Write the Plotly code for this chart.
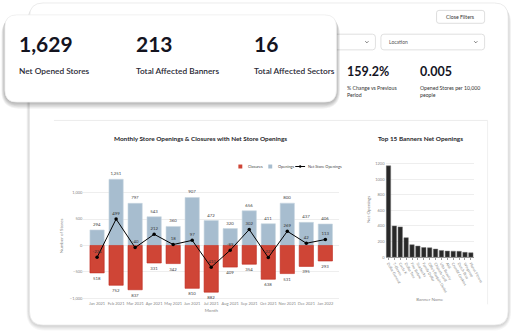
import plotly.graph_objects as go

W, H = 526, 336
FONT = "Lato"

# ---------------- data ----------------
months = ["Jan 2021", "Feb 2021", "Mar 2021", "Apr 2021", "May 2021", "Jun 2021",
          "Jul 2021", "Aug 2021", "Sep 2021", "Oct 2021", "Nov 2021", "Dec 2021", "Jan 2022"]
openings = [294, 1251, 797, 543, 360, 907, 472, 320, 656, 411, 800, 437, 406]
closures = [518, 752, 837, 331, 342, 810, 882, 409, 354, 638, 531, 395, 293]
net_openings = [-224, 499, -40, 212, 18, 97, -410, -89, 302, -227, 269, 42, 113]

banners = ["Dollar General", "7-Eleven", "Circle K", "Dollar Tree", "Five Below",
           "Starbucks", "Family Dollar", "Ollie's Bargain Outlet", "Chipotle Grill",
           "Ulta Beauty", "Aldi", "Crumbl Cookies", "Dutch Bros", "Wingstop", "Planet Fitness"]
banner_net = [1170, 400, 388, 250, 160, 142, 124, 120, 104, 86, 78, 77, 75, 62, 57]

kpi_values = ["1,629", "213", "16"]
kpi_labels = ["Net Opened Stores", "Total Affected Banners", "Total Affected Sectors"]
small_values = ["159.2%", "0.005"]
small_labels = ["% Change vs Previous<br>Period", "Opened Stores per 10,000<br>people"]


def X(x):
    return x / W


def Y(y):
    return 1 - y / H


def rrect(x0, y0, x1, y1, r):
    p = lambda x, y: f"{X(x):.5f},{Y(y):.5f}"
    return (f"M {p(x0+r, y0)} L {p(x1-r, y0)} Q {p(x1, y0)} {p(x1, y0+r)} "
            f"L {p(x1, y1-r)} Q {p(x1, y1)} {p(x1-r, y1)} L {p(x0+r, y1)} "
            f"Q {p(x0, y1)} {p(x0, y1-r)} L {p(x0, y0+r)} Q {p(x0, y0)} {p(x0+r, y0)} Z")


shapes = []


def add_card(x0, y0, x1, y1, r, shadow_alpha, shadow_layers, border="#e4e4e4"):
    for i in range(shadow_layers, 0, -1):
        shapes.append(dict(type="path", xref="paper", yref="paper",
                           path=rrect(x0 - i * 0.6, y0 + i * 0.4, x1 + i * 0.6, y1 + i * 1.1, r + i),
                           fillcolor=f"rgba(0,0,0,{shadow_alpha})", line=dict(width=0), layer="below"))
    shapes.append(dict(type="path", xref="paper", yref="paper", path=rrect(x0, y0, x1, y1, r),
                       fillcolor="white", line=dict(color=border, width=0.8), layer="below"))


# outer dashboard card
add_card(30, 2, 518, 327, 14, 0.035, 5, border="#e6e6e6")

# separator lines inside
shapes.append(dict(type="line", xref="paper", yref="paper", x0=X(55), x1=X(497), y0=Y(120.5), y1=Y(120.5),
                   line=dict(color="#e6e6e6", width=0.8), layer="below"))
shapes.append(dict(type="line", xref="paper", yref="paper", x0=X(497), x1=X(497), y0=Y(120.5), y1=Y(306),
                   line=dict(color="#ececec", width=0.8), layer="below"))

# close filters button
shapes.append(dict(type="path", xref="paper", yref="paper", path=rrect(445, 9.5, 494, 22.5, 2.5),
                   fillcolor="white", line=dict(color="#d5d5d5", width=0.8), layer="below"))
# dropdowns
for (x0, x1, cx) in [(300, 382.7, 374), (388.3, 494, 485)]:
    shapes.append(dict(type="path", xref="paper", yref="paper", path=rrect(x0, 33.5, x1, 49.3, 3),
                       fillcolor="white", line=dict(color="#d8d8d8", width=0.8), layer="below"))
    shapes.append(dict(type="path", xref="paper", yref="paper",
                       path=f"M {X(cx-1.6)},{Y(40.6)} L {X(cx)},{Y(42.2)} L {X(cx+1.6)},{Y(40.6)}",
                       line=dict(color="#555", width=0.8), layer="below"))

# KPI card on top
add_card(5, 14, 343, 102, 12, 0.05, 6, border="#ececec")

annotations = []


def txt(x, y, text, size, color="#333", xanchor="left", yanchor="middle", weight="normal"):
    annotations.append(dict(x=X(x), y=Y(y), xref="paper", yref="paper", text=text, showarrow=False,
                            xanchor=xanchor, yanchor=yanchor, align="left",
                            font=dict(family=FONT, size=size, color=color, weight=weight)))


for xk, v, l in zip([17, 137, 257], kpi_values, kpi_labels):
    txt(xk, 43, v, 21, "#14141f", weight="bold")
    txt(xk, 71, l, 8.3, "#2a2a36", weight=600)

for xk, v, l in zip([351.5, 426], small_values, small_labels):
    txt(xk, 71, v, 12.5, "#14141f", weight="bold")
    txt(xk, 91.5, l, 5.2, "#333")

txt(469.5, 16, "Close Filters", 5.2, "#333", xanchor="center")
txt(394, 41.3, "Location", 5.0, "#555")

# chart titles
txt(204.5, 139, "Monthly Store Openings & Closures with Net Store Openings", 6.4, "#1e1e2a",
    xanchor="center", weight="bold")
txt(428.5, 138.5, "Top 15 Banners Net Openings", 6.4, "#1e1e2a", xanchor="center", weight="bold")

# manual legend
RED = "#cf4536"
BLUE = "#a7bdcf"
LG = 3.9
shapes.append(dict(type="rect", xref="paper", yref="paper", x0=X(243), x1=X(247), y0=Y(169), y1=Y(165),
                   fillcolor=RED, line=dict(width=0)))
txt(250.5, 167, "Closures", LG, "#444")
shapes.append(dict(type="rect", xref="paper", yref="paper", x0=X(273.5), x1=X(277.5), y0=Y(169), y1=Y(165),
                   fillcolor=BLUE, line=dict(width=0)))
txt(281, 167, "Openings", LG, "#444")
shapes.append(dict(type="line", xref="paper", yref="paper", x0=X(301), x1=X(311), y0=Y(167), y1=Y(167),
                   line=dict(color="black", width=1)))
shapes.append(dict(type="circle", xref="paper", yref="paper", x0=X(304.8), x1=X(307.2), y0=Y(168.2), y1=Y(165.8),
                   fillcolor="black", line=dict(width=0)))
txt(312, 167, "Net Store Openings", LG, "#444")

fig = go.Figure()

fig.add_trace(go.Bar(x=months, y=openings, name="Openings", marker=dict(color=BLUE, line=dict(color="#c9d6e1", width=0.6)),
                     text=[f"{v:,}" for v in openings], textposition="outside",
                     textfont=dict(family=FONT, size=4.3, color="#444"), cliponaxis=False,
                     xaxis="x", yaxis="y", showlegend=False))
fig.add_trace(go.Bar(x=months, y=[-c for c in closures], name="Closures",
                     marker=dict(color=RED, line=dict(color="#c0281c", width=0.6)),
                     text=[f"{v:,}" for v in closures], textposition="outside",
                     textfont=dict(family=FONT, size=4.3, color="#444"), cliponaxis=False,
                     xaxis="x", yaxis="y", showlegend=False))
fig.add_trace(go.Scatter(x=months, y=net_openings, name="Net Store Openings", mode="lines+markers+text",
                         line=dict(color="black", width=1), marker=dict(color="black", size=3.5),
                         text=[f"{v:,}" for v in net_openings], textposition="top center",
                         textfont=dict(family=FONT, size=4.3, color="#333"), cliponaxis=False,
                         xaxis="x", yaxis="y", showlegend=False))

fig.add_trace(go.Bar(x=banners, y=banner_net, name="Net Openings",
                     marker=dict(color="#282828", line=dict(color="#777", width=0.5)),
                     xaxis="x2", yaxis="y2", showlegend=False))

axis_font = dict(family=FONT, size=4.0, color="#888")
title_font = dict(family=FONT, size=4.5, color="#888")

fig.update_layout(
    width=W, height=H, margin=dict(l=0, r=0, t=0, b=0),
    paper_bgcolor="white", plot_bgcolor="rgba(0,0,0,0)",
    barmode="overlay", bargap=0.25,
    font=dict(family=FONT),
    shapes=shapes, annotations=annotations,
    xaxis=dict(domain=[X(85), X(346)], anchor="y", type="category", range=[-0.72, 12.74],
               tickangle=0, tickfont=axis_font, showgrid=False, ticks="", showline=False, zeroline=False,
               title=dict(text="Month", font=title_font, standoff=3)),
    yaxis=dict(domain=[Y(302), Y(172)], anchor="x", range=[-1036, 1399],
               tickvals=[-1000, -500, 0, 500, 1000], tickformat=",", tickfont=axis_font,
               gridcolor="#eeeeee", gridwidth=0.8, zeroline=False, showline=False, ticks="",
               title=dict(text="Number of Stores", font=title_font, standoff=6)),
    xaxis2=dict(domain=[X(393), X(483)], anchor="y2", type="category", tickangle=60,
                tickfont=dict(family=FONT, size=3.7, color="#888"), showgrid=False,
                showline=True, linecolor="#999", linewidth=0.8, ticks="outside", ticklen=2,
                tickcolor="#999", tickwidth=0.5, zeroline=False,
                title=dict(text="Banner Name", font=title_font, standoff=4)),
    yaxis2=dict(domain=[Y(258.5), Y(162)], anchor="x2", range=[0, 1225],
                tickvals=[0, 200, 400, 600, 800, 1000, 1200], tickformat="d", tickfont=axis_font,
                gridcolor="#eeeeee", gridwidth=0.8, zeroline=False, showline=False, ticks="",
                title=dict(text="Net Openings", font=title_font, standoff=4)),
)

fig.write_html("out.html")
